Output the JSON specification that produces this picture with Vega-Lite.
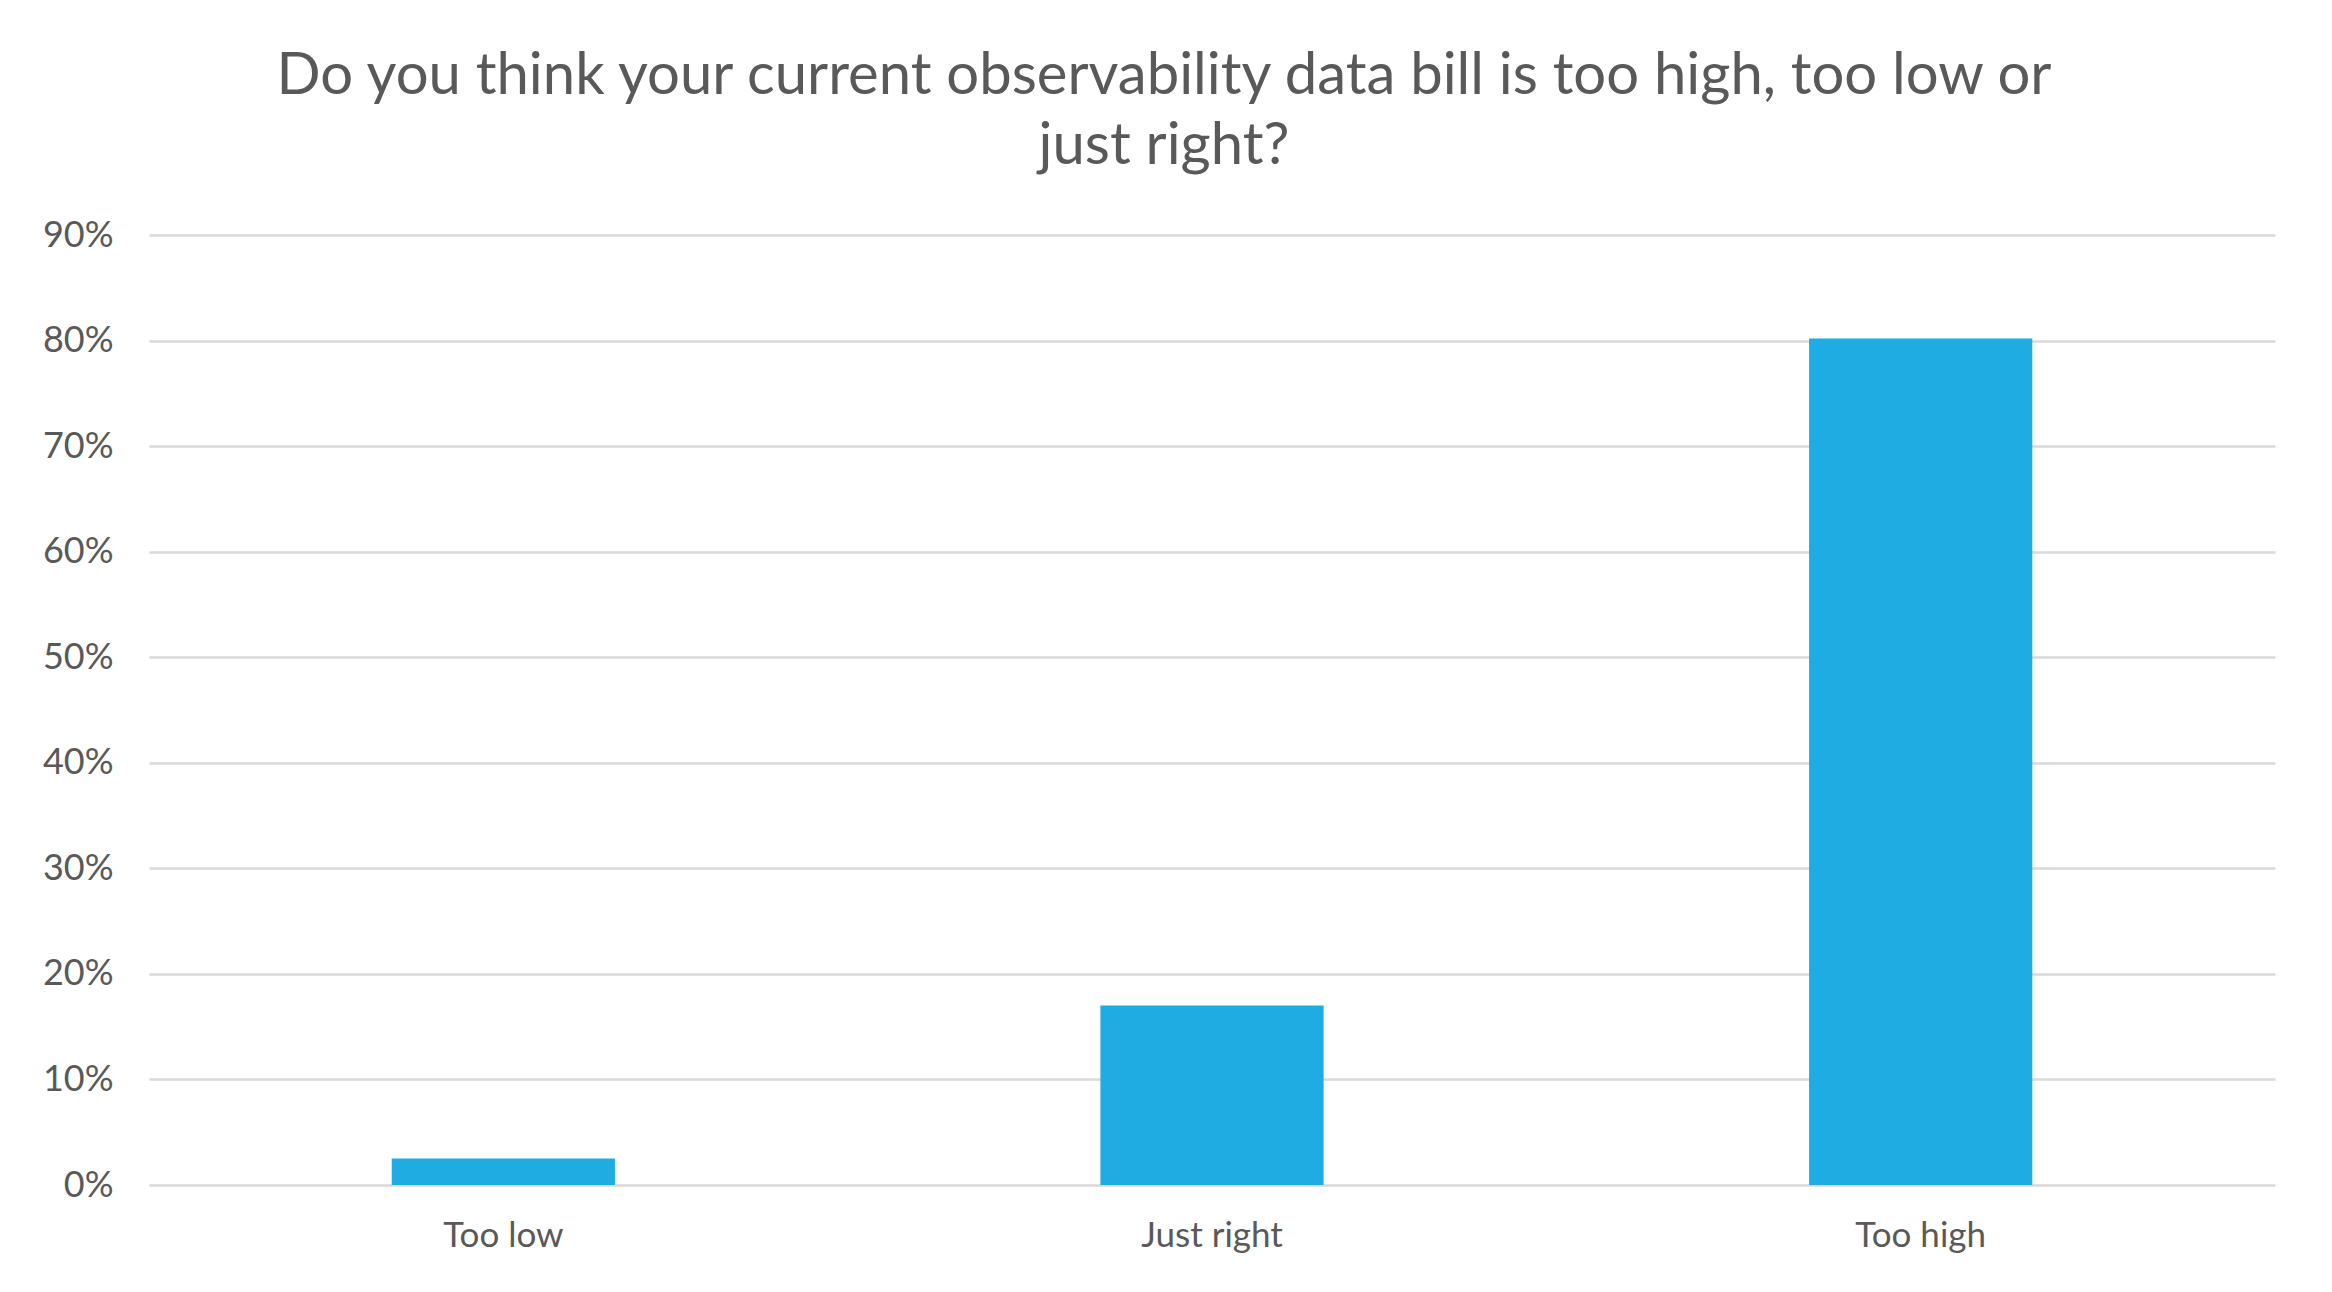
{
  "$schema": "https://vega.github.io/schema/vega-lite/v6.json",
  "width": 2126,
  "height": 950,
  "autosize": {"type": "none"},
  "padding": {"left": 149, "top": 235, "right": 57, "bottom": 107},
  "background": "white",
  "title": {
    "text": ["Do you think your current observability data bill is too high, too low or", "just right?"],
    "anchor": "middle",
    "frame": "group",
    "dx": -48,
    "offset": 41,
    "font": "Lato",
    "fontSize": 58,
    "fontWeight": "normal",
    "color": "#595959",
    "lineHeight": 70
  },
  "data": {
    "values": [
      {"answer": "Too low", "share": 0.025},
      {"answer": "Just right", "share": 0.17},
      {"answer": "Too high", "share": 0.802}
    ]
  },
  "mark": {"type": "bar", "color": "#1eace3"},
  "encoding": {
    "x": {
      "field": "answer",
      "type": "nominal",
      "sort": null,
      "scale": {"paddingInner": 0.685, "paddingOuter": 0.3425},
      "axis": {
        "title": null,
        "labelAngle": 0,
        "domain": false,
        "ticks": false,
        "labelPadding": 33,
        "labelFont": "Lato",
        "labelFontSize": 35,
        "labelColor": "#595959"
      }
    },
    "y": {
      "field": "share",
      "type": "quantitative",
      "scale": {"domain": [0, 0.9], "nice": false},
      "axis": {
        "title": null,
        "format": ".0%",
        "values": [0, 0.1, 0.2, 0.3, 0.4, 0.5, 0.6, 0.7, 0.8, 0.9],
        "domain": false,
        "ticks": false,
        "labelPadding": 36,
        "labelFont": "Lato",
        "labelFontSize": 36,
        "labelColor": "#595959",
        "gridColor": "#d9d9d9",
        "gridWidth": 2.5,
        "gridOpacity": 1
      }
    }
  },
  "config": {
    "view": {"stroke": null}
  }
}
